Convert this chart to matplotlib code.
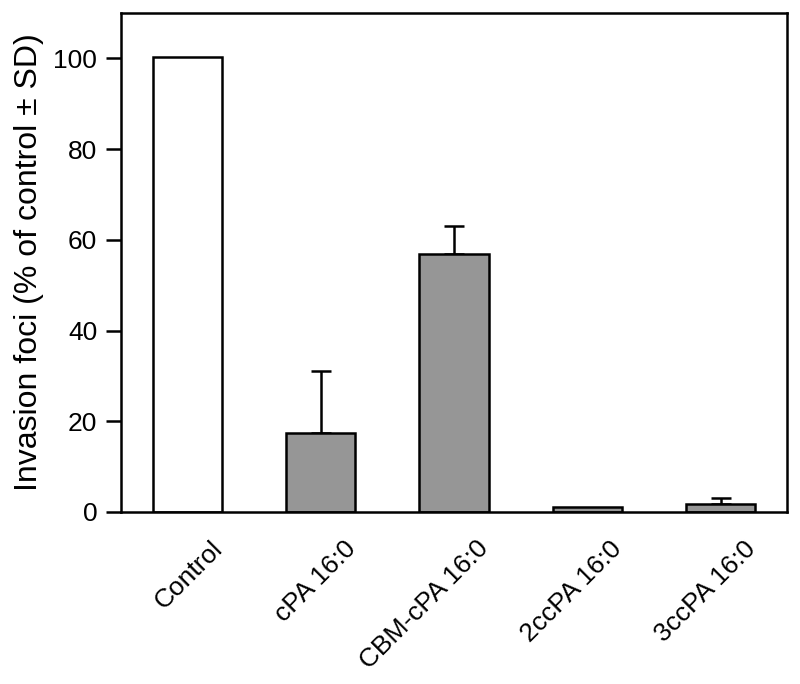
import matplotlib
matplotlib.use('Agg')
import matplotlib.pyplot as plt
import numpy as np

plt.rcParams['font.family'] = ['Liberation Sans', 'DejaVu Sans']

# 数据
categories = ['Control', 'cPA 16:0', 'CBM-cPA 16:0', '2ccPA 16:0', '3ccPA 16:0']
values = [100.3, 17.3, 56.9, 1.2, 1.7]
errors = [0.0, 13.7, 6.1, 0.0, 1.4]
bar_colors = ['white', '#969696', '#969696', '#969696', '#969696']
yticks = [0, 20, 40, 60, 80, 100]

fig = plt.figure(figsize=(8, 6.84), dpi=100)
ax = fig.add_axes([0.151, 0.2515, 0.833, 0.7295])

x = np.arange(len(categories))
ax.bar(x, values, width=0.52, color=bar_colors, edgecolor='black', linewidth=1.8, zorder=2)

# 只画向上的误差线
err_idx = [i for i, e in enumerate(errors) if e > 0]
ax.errorbar(x[err_idx], [values[i] for i in err_idx],
            yerr=[[0] * len(err_idx), [errors[i] for i in err_idx]],
            fmt='none', ecolor='black', elinewidth=1.8, capsize=7.5, capthick=1.8, zorder=1)

ax.set_xlim(-0.5, 4.5)
ax.set_ylim(0, 110)
ax.set_yticks(yticks)
ax.set_xticks(x)
ax.set_xticklabels([])

# 斜着的x轴标签，右端偏到柱子右侧
for i, name in enumerate(categories):
    ax.annotate(name, xy=(i, 0), xycoords=('data', 'axes fraction'),
                xytext=(31 * 0.72, -33 * 0.72), textcoords='offset points',
                rotation=45, ha='right', va='center', rotation_mode='anchor',
                fontsize=19, annotation_clip=False)

ax.tick_params(axis='y', direction='out', length=11, width=1.8, pad=6, labelsize=19)
ax.tick_params(axis='x', length=0, pad=0)
for s in ax.spines.values():
    s.set_linewidth(1.8)

ax.set_ylabel('Invasion foci (% of control \u00b1 SD)', fontsize=23, labelpad=7)

plt.savefig('out.png', dpi=100)
